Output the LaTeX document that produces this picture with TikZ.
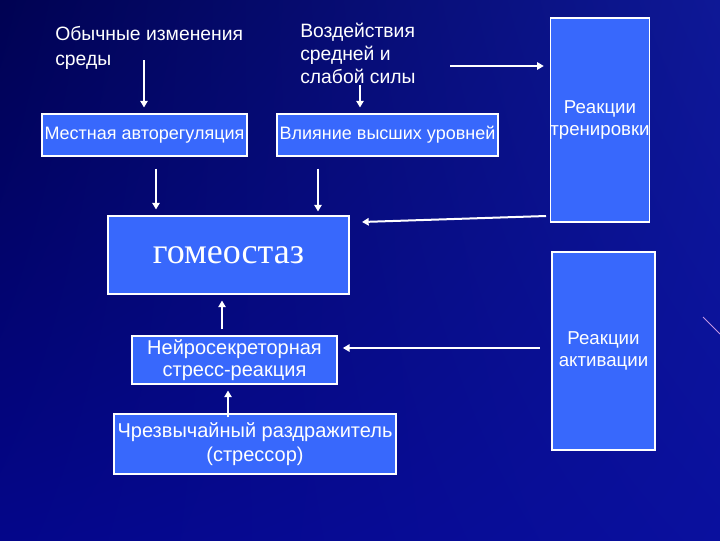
\documentclass[tikz,border=0pt]{standalone}
\usepackage{fontspec}
\setmainfont{Liberation Sans}
\newfontfamily\homeofont{Liberation Serif}
\usetikzlibrary{arrows.meta,positioning,calc,shadings}
\definecolor{boxblue}{RGB}{56,104,252}
\definecolor{bgtl}{RGB}{0,2,82}
\definecolor{bgtr}{RGB}{14,24,150}
\definecolor{bgbl}{RGB}{4,6,138}
\definecolor{bgbr}{RGB}{10,16,158}
\definecolor{streak}{RGB}{196,150,226}
\tikzset{
    blockbox/.style={draw=white, line width=0.8pt, fill=boxblue, text=white,
        align=center, inner sep=0pt, font=\fontsize{13.5}{17}\selectfont},
    flowarrow/.style={-{Triangle[length=5pt,width=5.5pt]}, line width=1.5pt, white}
}

\begin{document}
\begin{tikzpicture}[
    x=0.75pt, y=-0.75pt,
    freetext/.style={text=white, align=left, inner sep=0pt,
        font=\fontsize{14.5}{19}\selectfont}
]
\useasboundingbox (0,0) rectangle (720,540);
\shade[upper left=bgtl, upper right=bgtr, lower left=bgbl, lower right=bgbr] (0,0) rectangle (720,540);
\draw[streak, line width=0.6pt] (703,317) -- (720,334);

% top labels
\node[freetext, anchor=west] (usual) at (55,48) {Обычные изменения\\среды};
\node[freetext, anchor=west, font=\fontsize{14.5}{17.3}\selectfont] (impact) at (300,53) {Воздействия\\средней и\\слабой силы};

% boxes
\node[blockbox, minimum width=205*0.75pt, minimum height=42*0.75pt] (auto) at (144.5,135) {Местная авторегуляция};
\node[blockbox, minimum width=221*0.75pt, minimum height=42*0.75pt] (higher) at (387.5,135) {Влияние высших уровней};
\node[blockbox, minimum width=241*0.75pt, minimum height=78*0.75pt,
    font=\homeofont\fontsize{27}{30}\selectfont] (homeo) at (228.5,255) {гомеостаз};
\node[blockbox, minimum width=96*0.75pt, minimum height=204*0.75pt,
    font=\fontsize{14}{17}\selectfont] (train) at (600,120) {Реакции\\тренировки};
\node[blockbox, minimum width=103*0.75pt, minimum height=198*0.75pt,
    font=\fontsize{14}{16}\selectfont] (activ) at (603.5,351) {Реакции\\активации};
\node[blockbox, minimum width=205*0.75pt, minimum height=48*0.75pt,
    font=\fontsize{15}{16.5}\selectfont] (neuro) at (234.5,360) {Нейросекреторная\\стресс-реакция};
\node[blockbox, minimum width=282*0.75pt, minimum height=60*0.75pt,
    font=\fontsize{15}{18}\selectfont] (stressor) at (255,444) {Чрезвычайный раздражитель\\(стрессор)};

% arrow end points
\coordinate (usualend) at (144,60);
\coordinate (impactend) at (360,85);
\coordinate (impactside) at (450,66);
\coordinate (trainside) at (546,216);
\coordinate (homeoside) at (362,222);
\coordinate (activside) at (540,348);

\draw[flowarrow, shorten >=4.5pt] (usualend) -- (auto.north -| usualend);
\draw[flowarrow, shorten >=4.5pt] (impactend) -- (higher.north -| impactend);
\draw[flowarrow, shorten >=4.5pt] (impactside) -- (train.west |- impactside);
\draw[flowarrow, shorten <=9pt, shorten >=4.5pt] (auto.south -| 156,0) -- (homeo.north -| 156,0);
\draw[flowarrow, shorten <=9pt, shorten >=3pt] (higher.south -| 318,0) -- (homeo.north -| 318,0);
\draw[flowarrow] (trainside) -- (homeoside);
\draw[flowarrow, shorten <=4.5pt, shorten >=4.5pt] (neuro.north -| 222,0) -- (homeo.south -| 222,0);
\draw[flowarrow, shorten <=-3pt, shorten >=4.5pt] (stressor.north -| 228,0) -- (neuro.south -| 228,0);
\draw[flowarrow, shorten >=4pt] (activside) -- (neuro.east |- activside);
\end{tikzpicture}
\end{document}
